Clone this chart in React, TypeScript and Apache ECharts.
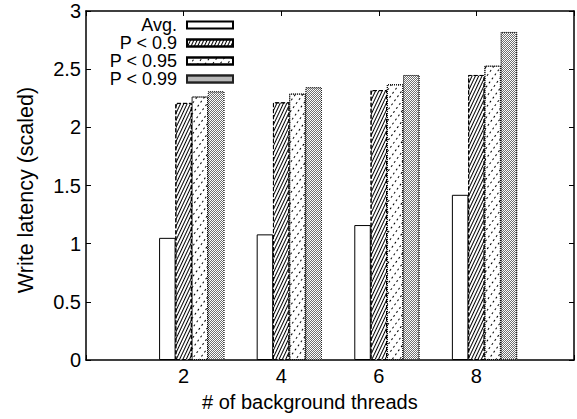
import React, { useEffect, useRef } from "react";
import * as echarts from "echarts";

const threads = [2, 4, 6, 8];
const seriesNames = ["Avg.", "P < 0.9", "P < 0.95", "P < 0.99"];
const avgValues = [1.05, 1.08, 1.16, 1.42];
const p90Values = [2.21, 2.215, 2.32, 2.45];
const p95Values = [2.265, 2.29, 2.37, 2.53];
const p99Values = [2.31, 2.345, 2.45, 2.82];
const xTicks = [0, 2, 4, 6, 8, 10];
const yTickLabels = ["0", "0.5", "1", "1.5", "2", "2.5", "3"];

const FONT = "'Liberation Sans', Arial, Helvetica, sans-serif";

export default function App() {
  const ref = useRef<HTMLDivElement>(null);
  useEffect(() => {
    if (!ref.current) return;
    const chart = echarts.init(ref.current, null, { renderer: "svg" });
    const offsets = [-1 / 3, 0, 1 / 3, 2 / 3];
    const allValues = [avgValues, p90Values, p95Values, p99Values];
    const styles: any[] = [
      { color: "#fff", borderColor: "#000", borderWidth: 1, borderType: "solid" },
      {
        color: "#fff",
        borderColor: "#000",
        borderWidth: 1,
        borderType: "dashed",
        decal: {
          symbol: "rect",
          symbolSize: 1,
          color: "#000",
          dashArrayX: [1, 0],
          dashArrayY: [1, 2],
          rotation: -Math.PI * 0.36,
        },
      },
      {
        color: "#fff",
        borderColor: "#000",
        borderWidth: 1,
        borderType: "dotted",
        decal: {
          symbol: "rect",
          symbolSize: 1,
          color: "#000",
          dashArrayX: [2, 2.5],
          dashArrayY: [0.9, 5],
          rotation: -Math.PI * 0.3,
        },
      },
      {
        color: "#fff",
        borderColor: "#222",
        borderWidth: 1,
        borderType: "dotted",
        decal: {
          symbol: "rect",
          symbolSize: 1,
          color: "#707070",
          dashArrayX: [[1, 1], [0, 1, 1, 0]],
          dashArrayY: [1, 0],
          rotation: 0,
        },
      },
    ];
    const series = seriesNames.map((name, k) => ({
      type: "bar",
      name,
      data: threads.map((t, i) => [t + offsets[k], allValues[k][i]]),
      barWidth: 16.5,
      barGap: "-100%",
      itemStyle: styles[k],
      emphasis: { disabled: true },
    }));
    const axisLine = { show: true, onZero: false, lineStyle: { color: "#000", width: 1.5 } };
    const tick = { show: true, inside: true, length: 5, lineStyle: { color: "#000", width: 1 } };
    const option: any = {
      animation: false,
      backgroundColor: "#fff",
      grid: { left: 86, top: 11, width: 493, height: 349 },
      xAxis: [
        {
          type: "value",
          position: "bottom",
          min: xTicks[0],
          max: xTicks[xTicks.length - 1],
          interval: 2,
          axisLine,
          axisTick: tick,
          splitLine: { show: false },
          axisLabel: {
            color: "#000",
            fontSize: 20,
            fontFamily: FONT,
            margin: 6,
            formatter: (v: number) => (v === xTicks[0] || v === xTicks[xTicks.length - 1] ? "" : String(v)),
          },
        },
        {
          type: "value",
          position: "top",
          min: xTicks[0],
          max: xTicks[xTicks.length - 1],
          interval: 2,
          axisLine,
          axisTick: tick,
          splitLine: { show: false },
          axisLabel: { show: false },
        },
      ],
      yAxis: [
        {
          type: "value",
          position: "left",
          min: 0,
          max: 3,
          interval: 0.5,
          axisLine,
          axisTick: tick,
          splitLine: { show: false },
          axisLabel: {
            color: "#000",
            fontSize: 20,
            fontFamily: FONT,
            margin: 5,
            formatter: (v: number) => yTickLabels[Math.round(v * 2)],
          },
        },
        {
          type: "value",
          position: "right",
          min: 0,
          max: 3,
          interval: 0.5,
          axisLine,
          axisTick: tick,
          splitLine: { show: false },
          axisLabel: { show: false },
        },
      ],
      legend: {
        data: seriesNames,
        orient: "vertical",
        left: 77,
        top: 16,
        padding: 0,
        itemGap: 0,
        itemWidth: 46,
        itemHeight: 7,
        symbolKeepAspect: false,
        align: "right",
        icon: "rect",
        selectedMode: false,
        textStyle: {
          color: "#000",
          fontSize: 18,
          fontFamily: FONT,
          width: 100,
          lineHeight: 17,
          padding: [0, 5, 0, 0],
        },
      },
      graphic: [
        {
          type: "text",
          left: 332 - 130,
          top: 392,
          style: {
            text: "# of background threads",
            fontSize: 20,
            fontFamily: FONT,
            fill: "#000",
            width: 260,
            align: "center",
          },
        },
        {
          type: "text",
          x: 26,
          y: 190,
          rotation: Math.PI / 2,
          style: {
            text: "Write latency (scaled)",
            fontSize: 21.5,
            fontFamily: FONT,
            fill: "#000",
            align: "center",
            verticalAlign: "middle",
          },
        },
      ],
      series,
    };
    chart.setOption(option);
    return () => chart.dispose();
  }, []);
  return (
    <div
      ref={ref}
      style={{ position: "absolute", left: 0, top: 0, width: 577, height: 419, background: "#fff" }}
    />
  );
}
